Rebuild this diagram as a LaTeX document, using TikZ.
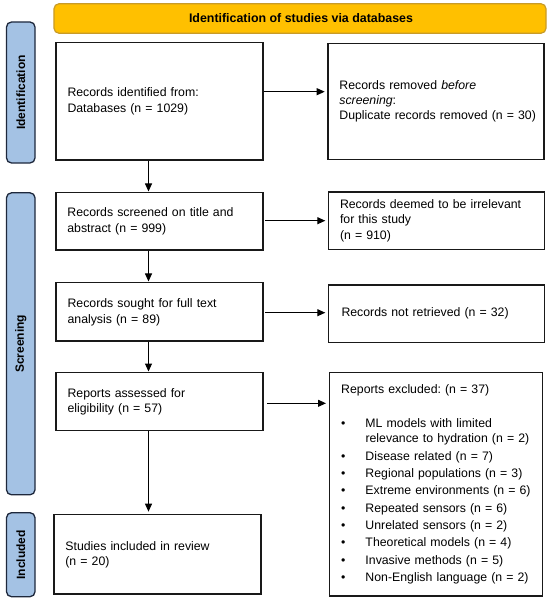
\documentclass[tikz,border=0pt]{standalone}
\usepackage{fontspec}
\setmainfont{Liberation Sans}
\usetikzlibrary{arrows.meta}
\definecolor{hdrfill}{RGB}{255,192,0}
\definecolor{hdrdraw}{RGB}{200,155,40}
\definecolor{sidefill}{RGB}{164,194,228}
\definecolor{sidedraw}{RGB}{30,40,60}
\definecolor{boxdraw}{RGB}{25,25,25}
\begin{document}
\begin{tikzpicture}[x=1bp,y=-1bp,
  box/.style={draw=boxdraw, line width=1.4bp, rectangle, inner xsep=11.5bp, inner ysep=0pt,
    align=left, font=\fontsize{12.3bp}{15.3bp}\selectfont\frenchspacing},
  hdr/.style={draw=hdrdraw, fill=hdrfill, line width=1.2bp, rounded corners=5bp,
    minimum width=492bp, minimum height=29.5bp, inner sep=0pt, font=\fontsize{12.4bp}{14bp}\selectfont\bfseries},
  side/.style={draw=sidedraw, fill=sidefill, line width=1.3bp, rounded corners=5bp,
    minimum width=28.5bp, inner sep=0pt},
  sidetxt/.style={rotate=90, font=\fontsize{12bp}{14bp}\selectfont\bfseries, inner sep=0pt},
  arr/.style={draw=black, line width=1bp, -{Triangle[length=8bp,width=7bp]}}
]
\useasboundingbox (0,0) rectangle (550,602);

% header
\node[hdr] (hdr) at (300,18.5) {};
\node[font=\fontsize{12.4bp}{14bp}\selectfont\bfseries, inner sep=0pt] (hdrt) at (301,18.5) {Identification of studies via databases};

% side labels
\node[side, minimum height=141bp] (sid) at (20.75,92.5) {};
\node[sidetxt] (sidt) at (sid.center) {Identification};
\node[side, minimum height=302bp] (scr) at (20.75,343.8) {};
\node[sidetxt] (scrt) at (scr.center) {Screening};
\node[side, minimum height=84bp] (inc) at (20.75,554.7) {};
\node[sidetxt] (inct) at (inc.center) {Included};

% left column
\node[box, minimum width=207bp, text width=184bp, minimum height=117.5bp] (b1) at (159.5,101.3)
  {Records identified from:\\Databases (n = 1029)};
\node[box, minimum width=207bp, text width=184bp, minimum height=57.3bp] (b2) at (159.4,221.3)
  {Records screened on title and\\abstract (n = 999)};
\node[box, minimum width=207bp, text width=184bp, minimum height=58.3bp, text depth=17bp] (b3) at (159.6,311.8)
  {Records sought for full text\\analysis (n = 89)};
\node[box, minimum width=207bp, text width=184bp, minimum height=58bp] (b4) at (159.6,401.7)
  {Reports assessed for\\eligibility (n = 57)};
\node[box, minimum width=207bp, text width=184bp, minimum height=79.7bp, text depth=17bp] (b5) at (157.4,554.2)
  {Studies included in review\\(n = 20)};

% right column
\node[box, minimum width=216bp, text width=193bp, minimum height=116bp] (r1) at (435.9,101.3)
  {Records removed \textit{before}\\\textit{screening}:\\\mbox{Duplicate records removed (n = 30)}};
\node[box, minimum width=216bp, text width=193bp, minimum height=57.3bp] (r2) at (436.5,220.7)
  {Records deemed to be irrelevant\\for this study\\(n = 910)};
\node[box, minimum width=216bp, text width=190bp, minimum height=57.7bp, inner xsep=13bp] (r3) at (436.5,313.8)
  {Records not retrieved (n = 32)};
\node[box, minimum width=213bp, text width=190bp, minimum height=223.3bp] (r4) at (436.2,484.3)
  {Reports excluded: (n = 37)\\[18.7bp]
   \makebox[24.3bp][l]{\textbullet}ML models with limited\\
   \hspace*{24.3bp}relevance to hydration (n = 2)\\[2bp]
   \makebox[24.3bp][l]{\textbullet}Disease related (n = 7)\\[2bp]
   \makebox[24.3bp][l]{\textbullet}Regional populations (n = 3)\\[2bp]
   \makebox[24.3bp][l]{\textbullet}Extreme environments (n = 6)\\[2bp]
   \makebox[24.3bp][l]{\textbullet}Repeated sensors (n = 6)\\[2bp]
   \makebox[24.3bp][l]{\textbullet}Unrelated sensors (n = 2)\\[2bp]
   \makebox[24.3bp][l]{\textbullet}Theoretical models (n = 4)\\[2bp]
   \makebox[24.3bp][l]{\textbullet}Invasive methods (n = 5)\\[2bp]
   \makebox[24.3bp][l]{\textbullet}Non-English language (n = 2)};

% connectors
\coordinate (vx) at (148.5,0);
\draw[arr, shorten >=0.5bp] (b1.south -| vx) -- (b2.north -| vx);
\draw[arr, shorten >=0.5bp] (b2.south -| vx) -- (b3.north -| vx);
\draw[arr, shorten >=0.5bp] (b3.south -| vx) -- (b4.north -| vx);
\draw[arr, shorten >=2bp] (b4.south -| vx) -- (b5.north -| vx);

\coordinate (h1) at (0,91.7);
\coordinate (h2) at (0,220.7);
\coordinate (h3) at (0,312.7);
\coordinate (h4) at (0,403.3);
\draw[arr, shorten >=2.5bp] (b1.east |- h1) -- (r1.west |- h1);
\draw[arr, shorten <=1.5bp, shorten >=2.5bp] (b2.east |- h2) -- (r2.west |- h2);
\draw[arr, shorten <=1.5bp, shorten >=2.5bp] (b3.east |- h3) -- (r3.west |- h3);
\draw[arr, shorten <=3bp, shorten >=3bp] (b4.east |- h4) -- (r4.west |- h4);
\end{tikzpicture}
\end{document}
